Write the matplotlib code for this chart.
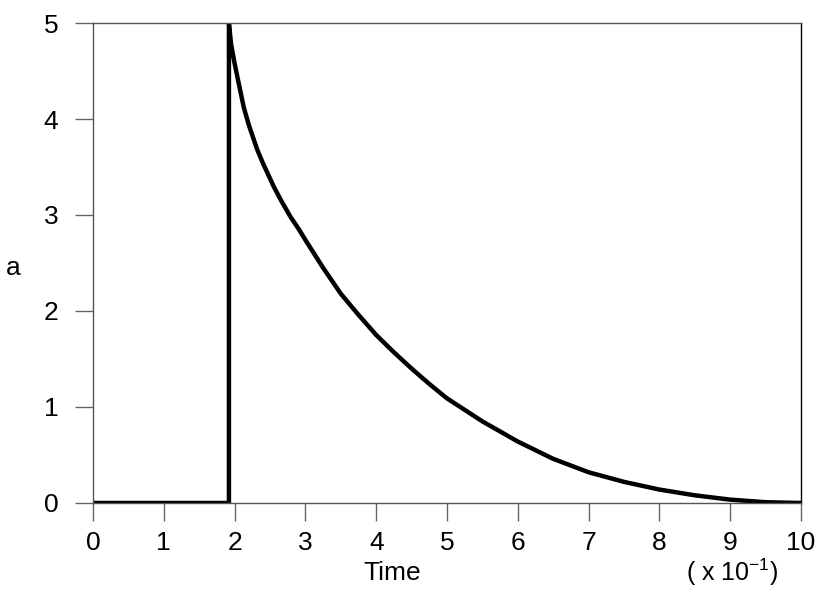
import matplotlib
matplotlib.use("Agg")
import matplotlib.pyplot as plt

# values (time in units of 1e-1)
time = [0, 1.92, 1.92, 1.95, 2.0, 2.05, 2.13, 2.2, 2.32, 2.4, 2.55, 2.65,
        2.79, 2.9, 3.0, 3.25, 3.5, 3.75, 4.0, 4.25, 4.5, 4.75, 5.0, 5.5,
        6.0, 6.5, 7.0, 7.5, 8.0, 8.5, 9.0, 9.5, 10]
a = [0, 0, 5.0, 4.78, 4.58, 4.40, 4.12, 3.94, 3.68, 3.54, 3.30, 3.16,
     2.98, 2.86, 2.74, 2.45, 2.18, 1.96, 1.75, 1.57, 1.40, 1.24, 1.09, 0.85,
     0.64, 0.46, 0.32, 0.22, 0.14, 0.08, 0.035, 0.008, 0]

xticks = list(range(0, 11))
yticks = list(range(0, 6))

plt.rcParams['font.family'] = ['Liberation Sans', 'DejaVu Sans']
plt.rcParams['mathtext.fontset'] = 'custom'
plt.rcParams['mathtext.rm'] = 'Liberation Sans'

fig = plt.figure(figsize=(8.26, 5.93), dpi=100)
ax = fig.add_axes([0.1126, 0.1518, 0.8571, 0.8094])

ax.plot(time, a, color='black', linewidth=3.2, solid_joinstyle='round')

ax.set_xlim(0, 10)
ax.set_ylim(0, 5)
ax.set_xticks(xticks)
ax.set_yticks(yticks)
ax.tick_params(axis='both', direction='out', length=13, width=1,
               color='#666666', labelsize=19)
ax.tick_params(axis='x', pad=7)
ax.tick_params(axis='y', pad=12)

for side in ['left', 'bottom', 'top']:
    ax.spines[side].set_color('#555555')
    ax.spines[side].set_linewidth(1)
ax.spines['right'].set_color('black')
ax.spines['right'].set_linewidth(1)

ax.set_xlabel('Time', fontsize=19)
ax.xaxis.set_label_coords((392 - 93) / 708, -0.12)
ax.set_ylabel('a', fontsize=19, rotation=0, va='center', ha='center')
ax.yaxis.set_label_coords(-0.112, 0.49)

fig.text(778 / 826, 1 - 581 / 593, r'( x 10$^{-1}$)', fontsize=18,
         ha='right', va='baseline')

fig.savefig('out.png', dpi=100)
